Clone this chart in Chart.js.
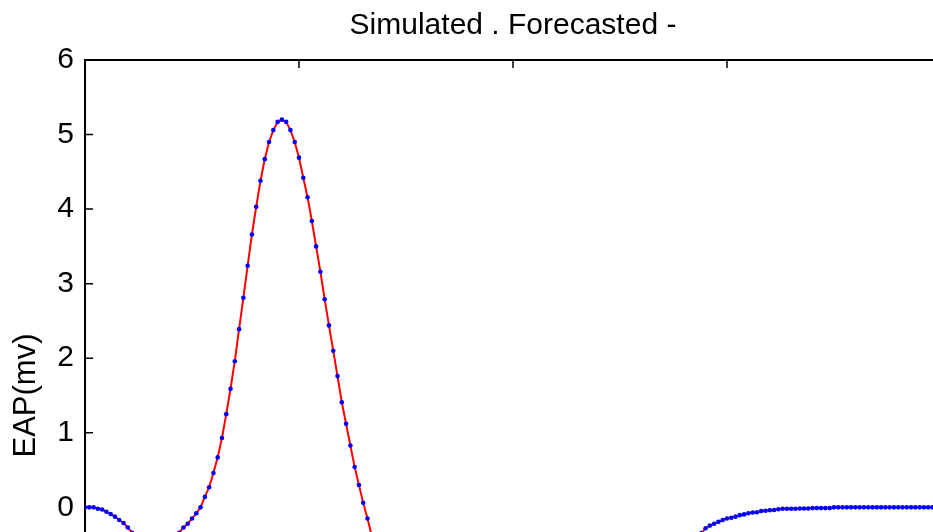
<!DOCTYPE html>
<html>
<head>
<meta charset="utf-8">
<script src="https://cdn.jsdelivr.net/npm/chart.js@4"></script>
<style>
  html, body { margin: 0; padding: 0; background: #fff; overflow: hidden; }
  #wrap { position: absolute; left: 0; top: 0; width: 960px; height: 760px; }
</style>
</head>
<body>
<div id="wrap"><canvas id="eapChart"></canvas></div>
<script>
// extracellular action potential, one value per sample (mV)
const eap = [
    0, 0, 0, -0.02, -0.03, -0.06, -0.09, -0.125, -0.17, -0.21,
    -0.27, -0.34, -0.41, -0.48, -0.54, -0.58, -0.6, -0.6, -0.58, -0.54,
    -0.48, -0.41, -0.34, -0.27, -0.22, -0.15, -0.08, 0, 0.14, 0.27,
    0.46, 0.67, 0.93, 1.25, 1.59, 1.96, 2.39, 2.81, 3.24, 3.66,
    4.03, 4.38, 4.67, 4.9, 5.06, 5.17, 5.2, 5.17, 5.06, 4.9,
    4.69, 4.42, 4.16, 3.84, 3.5, 3.16, 2.79, 2.44, 2.1, 1.76,
    1.41, 1.12, 0.83, 0.54, 0.3, 0.06, -0.15, -0.38, -0.6, -0.85,
    -1.1, -1.35, -1.58, -1.8, -1.98, -2.13, -2.25, -2.33, -2.38, -2.4,
    -2.39, -2.36, -2.31, -2.25, -2.18, -2.1, -2.02, -1.94, -1.86, -1.78,
    -1.7, -1.63, -1.56, -1.49, -1.43, -1.37, -1.31, -1.26, -1.21, -1.16,
    -1.12, -1.08, -1.04, -1.0, -0.97, -0.94, -0.91, -0.88, -0.85, -0.82,
    -0.8, -0.78, -0.76, -0.74, -0.72, -0.7, -0.68, -0.66, -0.64, -0.62,
    -0.61, -0.59, -0.58, -0.56, -0.55, -0.54, -0.53, -0.52, -0.51, -0.505,
    -0.5, -0.49, -0.48, -0.47, -0.46, -0.45, -0.44, -0.43, -0.42, -0.41,
    -0.405, -0.395, -0.385, -0.37, -0.345, -0.28, -0.245, -0.22, -0.195, -0.17,
    -0.15, -0.14, -0.125, -0.105, -0.095, -0.08, -0.07, -0.065, -0.05, -0.045,
    -0.04, -0.035, -0.025, -0.02, -0.02, -0.02, -0.02, -0.015, -0.015, -0.015,
    -0.01, -0.01, -0.01, -0.01, -0.01, 0, 0, 0, 0, 0,
    0, 0, 0, 0, 0, 0, 0, 0, 0, 0,
    0, 0, 0, 0, 0, 0, 0, 0, 0, 0,
    0
];
const xTicks = [0, 50, 100, 150, 200];
const yTicks = [-3, -2, -1, 0, 1, 2, 3, 4, 5, 6];

const points = eap.map((v, i) => ({ x: i, y: v }));

// box around the axes with inward tick marks on all four sides
const axesBox = {
    id: "axesBox",
    beforeDatasetsDraw(chart) {
        const { ctx, chartArea: a, scales } = chart;
        ctx.save();
        ctx.strokeStyle = "#000";
        ctx.lineWidth = 2;
        ctx.strokeRect(a.left, a.top, a.right - a.left, a.bottom - a.top);
        ctx.lineWidth = 1.5;
        ctx.beginPath();
        xTicks.forEach((v) => {
            const px = scales.x.getPixelForValue(v);
            ctx.moveTo(px, a.top);
            ctx.lineTo(px, a.top + 8);
            ctx.moveTo(px, a.bottom);
            ctx.lineTo(px, a.bottom - 8);
        });
        yTicks.forEach((v) => {
            const py = scales.y.getPixelForValue(v);
            ctx.moveTo(a.left, py);
            ctx.lineTo(a.left + 8, py);
            ctx.moveTo(a.right, py);
            ctx.lineTo(a.right - 8, py);
        });
        ctx.stroke();
        ctx.restore();
    },
};

Chart.defaults.font.family = "'Liberation Sans', Arial, sans-serif";
Chart.defaults.color = "#000";

new Chart(document.getElementById("eapChart"), {
    type: "line",
    data: {
        datasets: [
            {
                label: "Simulated",
                data: points,
                showLine: false,
                pointRadius: 2.3,
                pointBackgroundColor: "#0000ff",
                pointBorderWidth: 0,
            },
            {
                label: "Forecasted",
                data: points,
                borderColor: "#ff0000",
                borderWidth: 2,
                pointRadius: 0,
                tension: 0,
            },
        ],
    },
    options: {
        responsive: true,
        maintainAspectRatio: false,
        animation: false,
        layout: { padding: { left: 0, right: 19, top: 0, bottom: 15 } },
        scales: {
            x: {
                type: "linear",
                min: 0,
                max: 200,
                grid: { display: false },
                border: { display: false },
                ticks: { display: false, stepSize: 50 },
            },
            y: {
                min: -3,
                max: 6,
                grid: { display: false, drawTicks: false },
                border: { display: false },
                ticks: { stepSize: 1, padding: 11, font: { size: 30 } },
                title: {
                    display: true,
                    text: "EAP(mv)",
                    font: { size: 31 },
                    padding: { top: 8, bottom: 0 },
                },
                afterFit: (s) => {
                    s.width = 85;
                },
            },
        },
        plugins: {
            legend: { display: false },
            tooltip: { enabled: false },
            title: {
                display: true,
                fullSize: false,
                text: "Simulated . Forecasted -",
                font: { size: 30, weight: "normal" },
                padding: { top: 8, bottom: 16 },
            },
        },
    },
    plugins: [axesBox],
});
</script>
</body>
</html>
